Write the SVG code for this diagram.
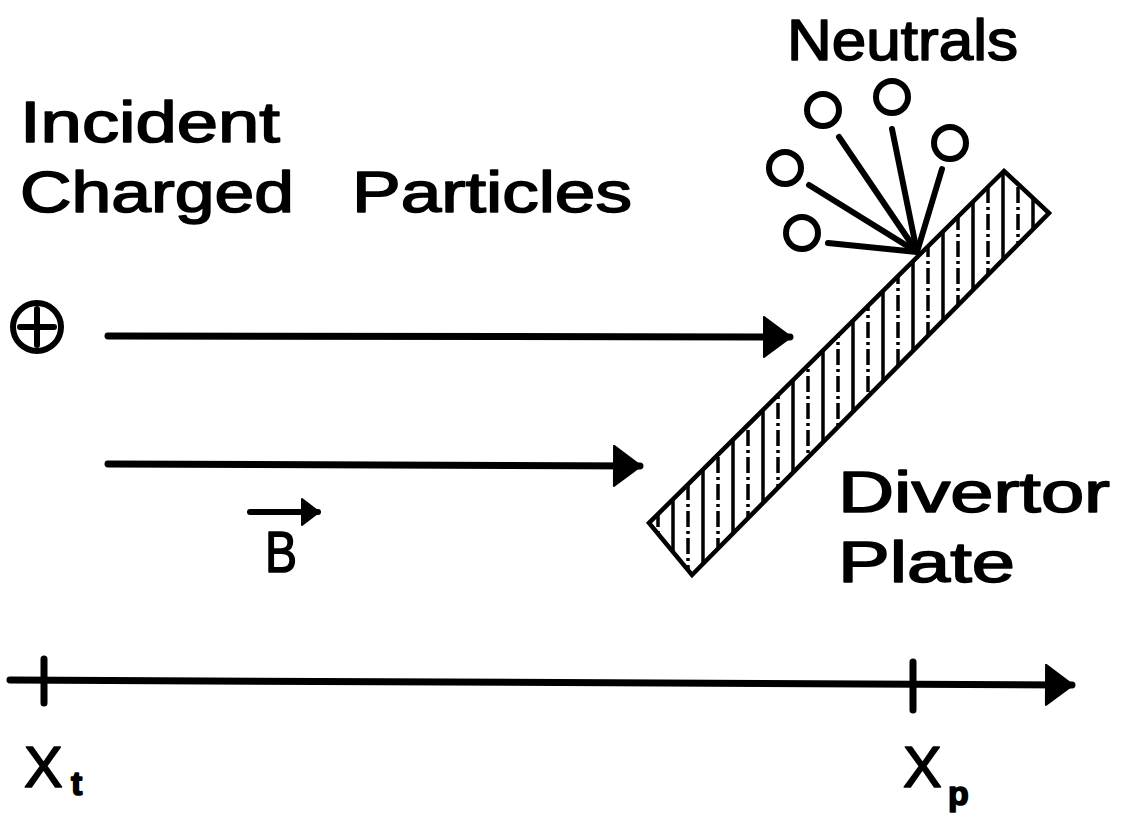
<svg xmlns="http://www.w3.org/2000/svg" width="1128" height="818" viewBox="0 0 1128 818">
<style>
.t{font-family:"Liberation Sans","DejaVu Sans",sans-serif;font-size:58px;fill:#000;stroke:#000;stroke-width:1.6px;stroke-linejoin:round;}
.ln{stroke:#000;stroke-width:7;stroke-linecap:round;fill:none;}
.nl{stroke:#000;stroke-width:6;stroke-linecap:round;fill:none;}
.nc{fill:none;stroke:#000;stroke-width:6;}
.hs{stroke:#000;stroke-width:3.5;}
.hd{stroke:#000;stroke-width:3.5;stroke-dasharray:16 4 3 4;}
</style>
<defs>
<marker id="ah" viewBox="0 0 30 42" markerWidth="30" markerHeight="42" refX="28" refY="21" markerUnits="userSpaceOnUse" orient="auto">
<path d="M2,1 L29,21 L2,41 Z" fill="#000" stroke="#000" stroke-width="2" stroke-linejoin="round"/>
</marker>
<marker id="ahs" viewBox="0 0 20 28" markerWidth="20" markerHeight="28" refX="18" refY="14" markerUnits="userSpaceOnUse" orient="auto">
<path d="M2,1 L19,14 L2,27 Z" fill="#000" stroke="#000" stroke-width="2" stroke-linejoin="round"/>
</marker>
<clipPath id="pc"><polygon points="1004,171 1049,213 692,575 649,523"/></clipPath>
</defs>

<g id="title-incident">
<text class="t" x="20" y="142" textLength="260" lengthAdjust="spacingAndGlyphs">Incident</text>
<text class="t" x="20" y="212" textLength="274" lengthAdjust="spacingAndGlyphs">Charged</text>
<text class="t" x="352" y="212" textLength="280" lengthAdjust="spacingAndGlyphs">Particles</text>
</g>

<g id="neutrals-label">
<text class="t" x="787" y="60" textLength="231" lengthAdjust="spacingAndGlyphs">Neutrals</text>
</g>

<g id="divertor-label">
<text class="t" x="838" y="512" textLength="272" lengthAdjust="spacingAndGlyphs">Divertor</text>
<text class="t" x="838" y="582" textLength="177" lengthAdjust="spacingAndGlyphs">Plate</text>
</g>

<g id="ion">
<circle cx="37" cy="327" r="24" fill="none" stroke="#000" stroke-width="6"/>
<line x1="20" y1="327" x2="54" y2="327" class="nl"/>
<line x1="37" y1="309" x2="37" y2="345" class="nl"/>
</g>

<g id="plate">
<g clip-path="url(#pc)">
<line class="hd" x1="658" y1="160" x2="658" y2="590"/>
<line class="hs" x1="673" y1="160" x2="673" y2="590"/>
<line class="hd" x1="688" y1="160" x2="688" y2="590"/>
<line class="hs" x1="703" y1="160" x2="703" y2="590"/>
<line class="hd" x1="718" y1="160" x2="718" y2="590"/>
<line class="hs" x1="733" y1="160" x2="733" y2="590"/>
<line class="hd" x1="748" y1="160" x2="748" y2="590"/>
<line class="hs" x1="763" y1="160" x2="763" y2="590"/>
<line class="hd" x1="778" y1="160" x2="778" y2="590"/>
<line class="hs" x1="793" y1="160" x2="793" y2="590"/>
<line class="hd" x1="808" y1="160" x2="808" y2="590"/>
<line class="hs" x1="823" y1="160" x2="823" y2="590"/>
<line class="hd" x1="838" y1="160" x2="838" y2="590"/>
<line class="hs" x1="853" y1="160" x2="853" y2="590"/>
<line class="hd" x1="868" y1="160" x2="868" y2="590"/>
<line class="hs" x1="883" y1="160" x2="883" y2="590"/>
<line class="hd" x1="898" y1="160" x2="898" y2="590"/>
<line class="hs" x1="913" y1="160" x2="913" y2="590"/>
<line class="hd" x1="928" y1="160" x2="928" y2="590"/>
<line class="hs" x1="943" y1="160" x2="943" y2="590"/>
<line class="hd" x1="958" y1="160" x2="958" y2="590"/>
<line class="hs" x1="973" y1="160" x2="973" y2="590"/>
<line class="hd" x1="988" y1="160" x2="988" y2="590"/>
<line class="hs" x1="1003" y1="160" x2="1003" y2="590"/>
<line class="hd" x1="1018" y1="160" x2="1018" y2="590"/>
<line class="hs" x1="1033" y1="160" x2="1033" y2="590"/>
</g>
<polygon points="1004,171 1049,213 692,575 649,523" fill="none" stroke="#000" stroke-width="4.5" stroke-linejoin="miter"/>
</g>

<g id="neutral-particles">
<circle class="nc" cx="823" cy="110" r="16"/>
<circle class="nc" cx="892" cy="97" r="16"/>
<circle class="nc" cx="950" cy="143" r="16"/>
<circle class="nc" cx="785" cy="168" r="16"/>
<circle class="nc" cx="802" cy="233" r="16"/>
</g>

<g id="b-label">
<text class="t" x="265" y="572" textLength="32" lengthAdjust="spacingAndGlyphs">B</text>
</g>

<g id="axis-labels">
<text class="t" x="24" y="787">X</text>
<text class="t" x="71" y="795" style="font-size:34px;font-weight:bold">t</text>
<text class="t" x="903" y="787">X</text>
<text class="t" x="948" y="805" style="font-size:34px;font-weight:bold">p</text>
</g>

<g id="connectors">
<line class="ln" x1="108" y1="336" x2="790" y2="337" marker-end="url(#ah)"/>
<line class="ln" x1="108" y1="464" x2="640" y2="466" marker-end="url(#ah)"/>
<line class="nl" x1="250" y1="512" x2="318" y2="512" marker-end="url(#ahs)"/>
<line class="nl" x1="839" y1="137" x2="917" y2="252"/>
<line class="nl" x1="892" y1="129" x2="917" y2="252"/>
<line class="nl" x1="942" y1="169" x2="917" y2="252"/>
<line class="nl" x1="809" y1="185" x2="917" y2="252"/>
<line class="nl" x1="828" y1="243" x2="917" y2="252"/>
<line class="ln" x1="10" y1="680" x2="1072" y2="685" marker-end="url(#ah)"/>
<line class="ln" x1="44" y1="659" x2="44" y2="703"/>
<line class="ln" x1="913" y1="662" x2="913" y2="710"/>
</g>
</svg>
